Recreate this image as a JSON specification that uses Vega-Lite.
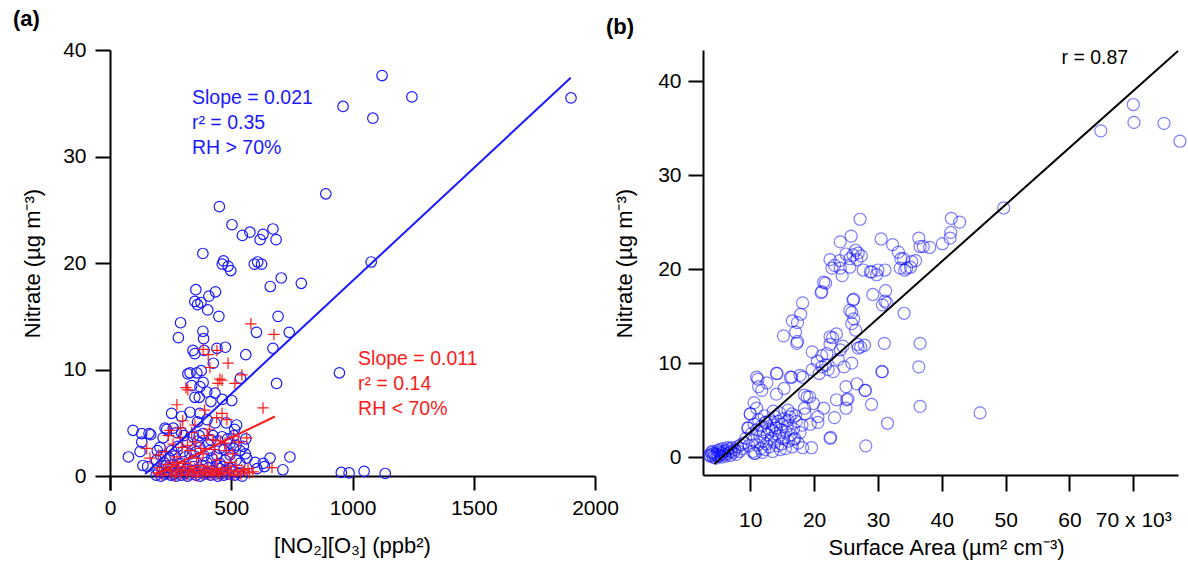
{
  "$schema": "https://vega.github.io/schema/vega-lite/v6.json",
  "background": "white",
  "padding": {"left": 13, "top": 8, "right": 5, "bottom": 5},
  "bounds": "flush",
  "spacing": 108,
  "config": {
    "view": {"stroke": null},
    "font": "Liberation Sans",
    "axis": {"grid": false, "domainColor": "black", "domainWidth": 2, "tickColor": "black", "tickWidth": 2, "labelColor": "black", "labelFontSize": 21, "titleFontSize": 22, "titleFontWeight": "normal", "titleColor": "black", "labelFont": "Liberation Sans", "titleFont": "Liberation Sans", "labelFlush": false, "labelOverlap": false},
    "title": {"fontSize": 22, "fontWeight": "bold", "color": "black", "font": "Liberation Sans"}
  },
  "datasets": {
    "a": [
      {"x":1122,"y":37.6,"g":"hi"},{"x":961,"y":34.7,"g":"hi"},{"x":1245,"y":35.6,"g":"hi"},{"x":1084,"y":33.6,"g":"hi"},{"x":1901,"y":35.5,"g":"hi"},{"x":1077,"y":20.1,"g":"hi"},{"x":890,"y":26.5,"g":"hi"},{"x":946,"y":9.7,"g":"hi"},{"x":954,"y":0.35,"g":"hi"},{"x":986,"y":0.3,"g":"hi"},{"x":1048,"y":0.45,"g":"hi"},{"x":1135,"y":0.25,"g":"hi"},
      {"x":451,"y":25.3,"g":"hi"},{"x":503,"y":23.6,"g":"hi"},{"x":546,"y":22.6,"g":"hi"},{"x":577,"y":22.9,"g":"hi"},{"x":631,"y":22.7,"g":"hi"},{"x":672,"y":23.2,"g":"hi"},{"x":619,"y":22.2,"g":"hi"},{"x":685,"y":22.2,"g":"hi"},{"x":383,"y":20.9,"g":"hi"},{"x":468,"y":20.2,"g":"hi"},{"x":463,"y":19.9,"g":"hi"},{"x":487,"y":19.7,"g":"hi"},{"x":498,"y":19.3,"g":"hi"},{"x":595,"y":19.9,"g":"hi"},{"x":609,"y":20.1,"g":"hi"},{"x":625,"y":19.9,"g":"hi"},{"x":661,"y":17.8,"g":"hi"},{"x":706,"y":18.6,"g":"hi"},{"x":789,"y":18.1,"g":"hi"},{"x":354,"y":17.5,"g":"hi"},{"x":435,"y":17.3,"g":"hi"},{"x":408,"y":16.9,"g":"hi"},{"x":350,"y":16.4,"g":"hi"},{"x":375,"y":16.3,"g":"hi"},{"x":361,"y":16.1,"g":"hi"},{"x":403,"y":15.6,"g":"hi"},{"x":449,"y":15.0,"g":"hi"},{"x":291,"y":14.4,"g":"hi"},{"x":693,"y":15.0,"g":"hi"},{"x":739,"y":13.5,"g":"hi"},{"x":604,"y":13.5,"g":"hi"},{"x":282,"y":13.0,"g":"hi"},{"x":383,"y":13.6,"g":"hi"},{"x":386,"y":12.9,"g":"hi"},{"x":560,"y":11.4,"g":"hi"},{"x":672,"y":12.0,"g":"hi"},{"x":476,"y":12.1,"g":"hi"},{"x":342,"y":11.8,"g":"hi"},{"x":350,"y":11.5,"g":"hi"},{"x":388,"y":11.8,"g":"hi"},{"x":441,"y":12.0,"g":"hi"},{"x":687,"y":8.7,"g":"hi"},{"x":538,"y":9.2,"g":"hi"},{"x":426,"y":10.6,"g":"hi"},
      {"x":330,"y":9.7,"g":"hi"},{"x":358,"y":9.7,"g":"hi"},{"x":371,"y":8.4,"g":"hi"},{"x":399,"y":7.9,"g":"hi"},{"x":433,"y":7.8,"g":"hi"},{"x":502,"y":7.1,"g":"hi"},{"x":350,"y":7.4,"g":"hi"},{"x":254,"y":5.9,"g":"hi"},{"x":295,"y":5.6,"g":"hi"},{"x":371,"y":5.9,"g":"hi"},{"x":330,"y":6.0,"g":"hi"},{"x":433,"y":5.0,"g":"hi"},{"x":522,"y":4.8,"g":"hi"},{"x":95,"y":4.3,"g":"hi"},{"x":131,"y":4.0,"g":"hi"},{"x":161,"y":4.0,"g":"hi"},{"x":131,"y":3.2,"g":"hi"},{"x":76,"y":1.8,"g":"hi"},{"x":124,"y":2.3,"g":"hi"},{"x":136,"y":1.0,"g":"hi"},{"x":742,"y":1.8,"g":"hi"},{"x":660,"y":1.7,"g":"hi"},{"x":632,"y":1.2,"g":"hi"},{"x":713,"y":0.6,"g":"hi"},{"x":606,"y":0.7,"g":"hi"},{"x":564,"y":1.7,"g":"hi"},{"x":536,"y":2.4,"g":"hi"},{"x":495,"y":3.1,"g":"hi"},{"x":462,"y":3.7,"g":"hi"},{"x":425,"y":3.8,"g":"hi"},{"x":384,"y":4.0,"g":"hi"},{"x":343,"y":3.7,"g":"hi"},{"x":295,"y":4.1,"g":"hi"},{"x":261,"y":4.5,"g":"hi"},{"x":227,"y":4.5,"g":"hi"},{"x":219,"y":3.6,"g":"hi"},{"x":206,"y":2.7,"g":"hi"},{"x":254,"y":2.4,"g":"hi"},{"x":301,"y":2.3,"g":"hi"},{"x":412,"y":2.4,"g":"hi"},{"x":453,"y":2.6,"g":"hi"},{"x":495,"y":2.0,"g":"hi"},{"x":536,"y":1.2,"g":"hi"},{"x":371,"y":2.7,"g":"hi"},{"x":192,"y":1.5,"g":"hi"},{"x":233,"y":1.0,"g":"hi"},{"x":289,"y":1.2,"g":"hi"},{"x":343,"y":1.5,"g":"hi"},{"x":399,"y":1.3,"g":"hi"},{"x":453,"y":1.2,"g":"hi"},{"x":495,"y":0.7,"g":"hi"},
      {"x":384,"y":8.8,"g":"hi"},{"x":416,"y":7.0,"g":"hi"},{"x":463,"y":7.2,"g":"hi"},{"x":368,"y":7.4,"g":"hi"},{"x":361,"y":5.1,"g":"hi"},{"x":400,"y":5.3,"g":"hi"},{"x":479,"y":5.0,"g":"hi"},{"x":514,"y":4.4,"g":"hi"},{"x":168,"y":3.9,"g":"hi"},{"x":234,"y":4.4,"g":"hi"},{"x":274,"y":4.1,"g":"hi"},{"x":305,"y":3.8,"g":"hi"},{"x":368,"y":3.8,"g":"hi"},{"x":416,"y":3.4,"g":"hi"},{"x":511,"y":3.8,"g":"hi"},{"x":195,"y":2.4,"g":"hi"},{"x":155,"y":0.9,"g":"hi"},{"x":637,"y":0.9,"g":"hi"},{"x":598,"y":1.3,"g":"hi"},{"x":558,"y":2.1,"g":"hi"},{"x":337,"y":8.5,"g":"hi"},{"x":321,"y":9.6,"g":"hi"},{"x":376,"y":9.9,"g":"hi"},
      {"x":190,"y":0.1,"g":"hi"},{"x":200,"y":0.4,"g":"hi"},{"x":210,"y":0.0,"g":"hi"},{"x":215,"y":0.6,"g":"hi"},{"x":225,"y":0.2,"g":"hi"},{"x":235,"y":0.3,"g":"hi"},{"x":240,"y":0.8,"g":"hi"},{"x":250,"y":0.1,"g":"hi"},{"x":258,"y":0.5,"g":"hi"},{"x":265,"y":0.2,"g":"hi"},{"x":272,"y":0.0,"g":"hi"},{"x":280,"y":0.4,"g":"hi"},{"x":290,"y":0.7,"g":"hi"},{"x":295,"y":0.1,"g":"hi"},{"x":305,"y":0.3,"g":"hi"},{"x":312,"y":0.6,"g":"hi"},{"x":320,"y":0.0,"g":"hi"},{"x":330,"y":0.2,"g":"hi"},{"x":338,"y":0.5,"g":"hi"},{"x":345,"y":0.9,"g":"hi"},{"x":355,"y":0.1,"g":"hi"},{"x":365,"y":0.4,"g":"hi"},{"x":372,"y":0.0,"g":"hi"},{"x":380,"y":0.6,"g":"hi"},{"x":390,"y":0.2,"g":"hi"},{"x":400,"y":0.3,"g":"hi"},{"x":408,"y":0.8,"g":"hi"},{"x":415,"y":0.1,"g":"hi"},{"x":425,"y":0.5,"g":"hi"},{"x":435,"y":0.2,"g":"hi"},{"x":445,"y":0.0,"g":"hi"},{"x":452,"y":0.7,"g":"hi"},{"x":460,"y":0.3,"g":"hi"},{"x":470,"y":0.1,"g":"hi"},{"x":480,"y":0.5,"g":"hi"},{"x":490,"y":0.2,"g":"hi"},{"x":505,"y":0.4,"g":"hi"},{"x":515,"y":0.1,"g":"hi"},{"x":530,"y":0.3,"g":"hi"},{"x":545,"y":0.0,"g":"hi"},{"x":210,"y":1.9,"g":"hi"},{"x":222,"y":1.3,"g":"hi"},{"x":245,"y":1.7,"g":"hi"},{"x":268,"y":1.9,"g":"hi"},{"x":280,"y":2.8,"g":"hi"},{"x":310,"y":1.8,"g":"hi"},{"x":320,"y":3.2,"g":"hi"},{"x":330,"y":2.1,"g":"hi"},{"x":355,"y":2.3,"g":"hi"},{"x":362,"y":3.3,"g":"hi"},{"x":388,"y":1.9,"g":"hi"},{"x":405,"y":3.0,"g":"hi"},{"x":420,"y":1.7,"g":"hi"},{"x":440,"y":2.0,"g":"hi"},{"x":445,"y":3.3,"g":"hi"},{"x":470,"y":2.5,"g":"hi"},{"x":475,"y":1.5,"g":"hi"},{"x":485,"y":3.5,"g":"hi"},{"x":510,"y":2.6,"g":"hi"},{"x":520,"y":1.5,"g":"hi"},{"x":550,"y":2.8,"g":"hi"},{"x":560,"y":3.5,"g":"hi"},{"x":520,"y":2.9,"g":"hi"},{"x":440,"y":1.0,"g":"hi"},{"x":465,"y":0.9,"g":"hi"},{"x":380,"y":1.0,"g":"hi"},{"x":300,"y":0.9,"g":"hi"},{"x":260,"y":1.1,"g":"hi"},
      {"x":581,"y":14.3,"g":"lo"},{"x":676,"y":13.3,"g":"lo"},{"x":384,"y":11.9,"g":"lo"},{"x":405,"y":11.4,"g":"lo"},{"x":441,"y":11.8,"g":"lo"},{"x":487,"y":10.6,"g":"lo"},{"x":412,"y":10.2,"g":"lo"},{"x":453,"y":9.1,"g":"lo"},{"x":544,"y":9.5,"g":"lo"},{"x":313,"y":8.3,"g":"lo"},{"x":445,"y":8.7,"g":"lo"},{"x":462,"y":9.0,"g":"lo"},{"x":515,"y":8.7,"g":"lo"},{"x":276,"y":6.7,"g":"lo"},{"x":631,"y":6.4,"g":"lo"},{"x":462,"y":5.9,"g":"lo"},{"x":482,"y":5.3,"g":"lo"},{"x":247,"y":4.3,"g":"lo"},{"x":241,"y":3.8,"g":"lo"},{"x":151,"y":2.6,"g":"lo"},{"x":165,"y":1.7,"g":"lo"},{"x":564,"y":3.6,"g":"lo"},{"x":474,"y":3.1,"g":"lo"},{"x":425,"y":3.4,"g":"lo"},{"x":297,"y":2.7,"g":"lo"},{"x":330,"y":2.4,"g":"lo"},{"x":384,"y":2.1,"g":"lo"},{"x":507,"y":2.1,"g":"lo"},{"x":276,"y":1.8,"g":"lo"},{"x":357,"y":1.7,"g":"lo"},{"x":441,"y":1.5,"g":"lo"},{"x":495,"y":1.3,"g":"lo"},{"x":544,"y":0.6,"g":"lo"},{"x":668,"y":0.8,"g":"lo"},{"x":569,"y":0.7,"g":"lo"},
      {"x":195,"y":0.3,"g":"lo"},{"x":205,"y":0.8,"g":"lo"},{"x":215,"y":0.1,"g":"lo"},{"x":228,"y":0.5,"g":"lo"},{"x":238,"y":1.1,"g":"lo"},{"x":248,"y":0.2,"g":"lo"},{"x":255,"y":0.6,"g":"lo"},{"x":262,"y":1.3,"g":"lo"},{"x":270,"y":0.0,"g":"lo"},{"x":278,"y":0.4,"g":"lo"},{"x":285,"y":0.9,"g":"lo"},{"x":292,"y":0.2,"g":"lo"},{"x":300,"y":0.6,"g":"lo"},{"x":308,"y":1.2,"g":"lo"},{"x":316,"y":0.1,"g":"lo"},{"x":324,"y":0.5,"g":"lo"},{"x":332,"y":0.9,"g":"lo"},{"x":340,"y":0.3,"g":"lo"},{"x":348,"y":0.7,"g":"lo"},{"x":356,"y":0.0,"g":"lo"},{"x":364,"y":0.4,"g":"lo"},{"x":372,"y":1.0,"g":"lo"},{"x":380,"y":0.2,"g":"lo"},{"x":388,"y":0.6,"g":"lo"},{"x":396,"y":0.3,"g":"lo"},{"x":404,"y":0.9,"g":"lo"},{"x":412,"y":0.1,"g":"lo"},{"x":420,"y":0.5,"g":"lo"},{"x":428,"y":0.2,"g":"lo"},{"x":436,"y":0.7,"g":"lo"},{"x":444,"y":0.4,"g":"lo"},{"x":452,"y":0.1,"g":"lo"},{"x":460,"y":0.6,"g":"lo"},{"x":470,"y":0.3,"g":"lo"},{"x":480,"y":0.8,"g":"lo"},{"x":490,"y":0.2,"g":"lo"},{"x":500,"y":0.5,"g":"lo"},{"x":512,"y":0.1,"g":"lo"},{"x":525,"y":0.4,"g":"lo"},{"x":540,"y":0.2,"g":"lo"},{"x":555,"y":0.5,"g":"lo"},{"x":575,"y":0.3,"g":"lo"},{"x":590,"y":0.4,"g":"lo"},{"x":520,"y":1.0,"g":"lo"},{"x":200,"y":2.0,"g":"lo"},{"x":230,"y":2.3,"g":"lo"},{"x":260,"y":3.0,"g":"lo"},{"x":290,"y":3.6,"g":"lo"},{"x":320,"y":2.9,"g":"lo"},{"x":350,"y":3.2,"g":"lo"},{"x":375,"y":2.6,"g":"lo"},{"x":400,"y":3.8,"g":"lo"},{"x":430,"y":2.5,"g":"lo"},{"x":455,"y":3.3,"g":"lo"},{"x":480,"y":2.4,"g":"lo"},{"x":530,"y":3.2,"g":"lo"},{"x":510,"y":3.7,"g":"lo"},{"x":290,"y":4.5,"g":"lo"},{"x":350,"y":4.8,"g":"lo"},{"x":410,"y":4.4,"g":"lo"},{"x":440,"y":5.5,"g":"lo"},{"x":390,"y":6.2,"g":"lo"},{"x":300,"y":5.2,"g":"lo"},{"x":321,"y":8.1,"g":"lo"},{"x":337,"y":4.1,"g":"lo"}
    ],
    "aLines": [
      {"x":145,"y":0.2,"g":"hi"},{"x":1900,"y":37.4,"g":"hi"},
      {"x":185,"y":0.15,"g":"lo"},{"x":680,"y":5.6,"g":"lo"}
    ],
    "aNotes": [
      {"x":338,"y":36.3,"g":"hi","t":"Slope = 0.021\nr² = 0.35\nRH > 70%"},
      {"x":1023,"y":11.8,"g":"lo","t":"Slope = 0.011\nr² = 0.14\nRH < 70%"}
    ],
    "b": [
      {"x":3.6,"y":0.2},{"x":3.8,"y":0.1},{"x":4.0,"y":0.3},{"x":4.2,"y":0.0},{"x":4.3,"y":0.4},{"x":4.5,"y":0.2},{"x":4.6,"y":-0.1},{"x":4.8,"y":0.3},{"x":5.0,"y":0.1},{"x":5.1,"y":0.5},{"x":5.3,"y":0.2},{"x":5.5,"y":0.0},{"x":5.6,"y":0.4},{"x":5.8,"y":0.6},{"x":6.0,"y":0.3},{"x":6.1,"y":0.1},{"x":6.3,"y":0.7},{"x":6.5,"y":0.4},{"x":6.7,"y":0.9},{"x":6.9,"y":0.2},{"x":7.0,"y":0.6},{"x":7.2,"y":1.0},{"x":7.4,"y":0.5},{"x":7.6,"y":0.8},{"x":7.8,"y":0.3},{"x":8.0,"y":1.1},{"x":8.3,"y":0.6},{"x":8.5,"y":1.3},{"x":8.8,"y":0.9},{"x":9.0,"y":1.5},{"x":4.1,"y":0.6},{"x":4.9,"y":0.7},{"x":5.7,"y":0.9},{"x":6.4,"y":1.0},{"x":3.9,"y":0.5},{"x":5.2,"y":0.8},
      {"x":9.3,"y":2.0},{"x":9.6,"y":3.1},{"x":9.8,"y":1.2},{"x":10.0,"y":4.6},{"x":10.2,"y":2.5},{"x":10.4,"y":0.6},{"x":10.5,"y":1.8},{"x":10.6,"y":3.5},{"x":10.8,"y":0.4},{"x":11.0,"y":2.9},{"x":11.1,"y":1.3},{"x":11.3,"y":4.0},{"x":11.5,"y":2.2},{"x":11.6,"y":0.9},{"x":11.8,"y":3.3},{"x":12.0,"y":1.7},{"x":12.1,"y":2.7},{"x":12.3,"y":0.8},{"x":12.4,"y":3.7},{"x":12.5,"y":1.4},{"x":12.7,"y":2.4},{"x":12.9,"y":3.0},{"x":13.0,"y":1.1},{"x":13.1,"y":3.9},{"x":13.3,"y":2.0},{"x":13.4,"y":2.9},{"x":13.5,"y":0.6},{"x":13.7,"y":3.4},{"x":13.8,"y":1.6},{"x":13.9,"y":4.3},{"x":14.0,"y":2.5},{"x":14.1,"y":3.1},{"x":14.3,"y":1.2},{"x":14.4,"y":3.8},{"x":14.5,"y":2.2},{"x":14.6,"y":4.7},{"x":14.8,"y":2.9},{"x":14.9,"y":1.4},{"x":15.0,"y":3.5},{"x":15.2,"y":2.0},{"x":15.3,"y":4.1},{"x":15.5,"y":0.9},{"x":15.6,"y":2.7},{"x":15.8,"y":3.3},{"x":16.0,"y":1.7},{"x":16.2,"y":4.3},{"x":16.4,"y":2.4},{"x":16.6,"y":1.1},{"x":16.8,"y":3.0},{"x":17.0,"y":2.0},{"x":17.2,"y":3.8},{"x":17.5,"y":1.5},{"x":17.8,"y":2.6},{"x":18.1,"y":3.4},{"x":12.2,"y":4.4},{"x":13.6,"y":4.9},{"x":11.9,"y":0.5},{"x":14.7,"y":0.8},{"x":15.9,"y":5.0},{"x":16.5,"y":4.6},
      {"x":70.0,"y":37.5},{"x":70.1,"y":35.6},{"x":74.8,"y":35.5},{"x":77.3,"y":33.6},{"x":64.9,"y":34.7},{"x":49.7,"y":26.5},{"x":46.0,"y":4.7},
      {"x":42.8,"y":25.0},{"x":41.5,"y":25.4},{"x":41.4,"y":23.9},{"x":41.3,"y":23.3},{"x":40.1,"y":22.7},{"x":38.1,"y":22.3},{"x":37.1,"y":22.4},{"x":36.4,"y":23.3},{"x":36.6,"y":22.4},{"x":35.9,"y":20.9},{"x":35.3,"y":20.8},{"x":35.1,"y":20.2},{"x":34.2,"y":19.9},{"x":34.5,"y":20.1},{"x":33.5,"y":20.1},{"x":33.6,"y":21.1},{"x":34.0,"y":21.1},{"x":33.2,"y":21.8},{"x":32.3,"y":22.6},{"x":30.5,"y":23.2},{"x":34.1,"y":15.3},{"x":36.6,"y":12.1},{"x":36.4,"y":9.6},{"x":36.6,"y":5.4},{"x":31.5,"y":3.6},{"x":31.0,"y":12.1},{"x":30.6,"y":9.1},{"x":31.2,"y":17.7},{"x":31.1,"y":16.6},{"x":30.7,"y":16.2},{"x":31.4,"y":16.4},{"x":30.0,"y":19.9},{"x":31.1,"y":19.9},{"x":29.8,"y":19.4},{"x":28.8,"y":19.7},{"x":29.0,"y":19.7},{"x":29.2,"y":17.3},{"x":29.0,"y":5.6},{"x":28.0,"y":7.1},{"x":28.1,"y":1.2},{"x":27.4,"y":21.4},{"x":27.2,"y":25.3},{"x":26.5,"y":22.0},{"x":25.6,"y":21.1},{"x":25.0,"y":21.6},{"x":25.8,"y":23.5},{"x":24.1,"y":22.9},{"x":24.1,"y":20.1},{"x":24.4,"y":19.3},{"x":23.2,"y":20.4},{"x":22.5,"y":21.0},{"x":24.0,"y":20.9},{"x":26.1,"y":21.5},{"x":26.9,"y":21.7},{"x":26.7,"y":21.0},{"x":25.6,"y":20.2},{"x":27.7,"y":19.9},{"x":22.8,"y":20.1},{"x":21.8,"y":18.5},{"x":21.1,"y":17.5},{"x":21.5,"y":18.6},{"x":21.2,"y":17.6},{"x":26.2,"y":16.8},{"x":26.1,"y":16.7},{"x":25.9,"y":15.4},{"x":25.6,"y":15.6},{"x":26.2,"y":14.7},{"x":25.9,"y":14.2},{"x":26.5,"y":13.5},{"x":26.8,"y":12.0},{"x":25.9,"y":10.0},{"x":24.7,"y":9.6},{"x":25.0,"y":7.5},{"x":25.3,"y":6.2},{"x":25.0,"y":5.2},{"x":23.2,"y":4.2},{"x":22.6,"y":2.1},{"x":18.2,"y":16.4},{"x":17.9,"y":15.2},{"x":17.4,"y":14.3},{"x":16.6,"y":14.5},{"x":17.1,"y":13.3},{"x":17.4,"y":12.3},{"x":17.3,"y":12.1},{"x":15.2,"y":12.9},{"x":23.5,"y":13.1},{"x":22.9,"y":12.7},{"x":22.5,"y":12.0},{"x":24.1,"y":11.4},{"x":22.5,"y":12.8},{"x":19.7,"y":11.2},{"x":21.2,"y":10.8},{"x":22.2,"y":9.3},{"x":21.2,"y":9.6},{"x":19.7,"y":9.3},{"x":18.2,"y":8.5},{"x":16.5,"y":8.5},{"x":14.1,"y":8.9},{"x":12.6,"y":7.9},{"x":11.2,"y":8.3},{"x":11.8,"y":7.1},{"x":15.3,"y":7.3},{"x":18.5,"y":6.6},{"x":19.3,"y":6.4},{"x":21.5,"y":5.2},{"x":20.6,"y":3.7},{"x":19.4,"y":3.5},{"x":18.5,"y":5.2},{"x":14.1,"y":6.7},{"x":10.6,"y":5.8},{"x":10.0,"y":4.6},{"x":12.4,"y":3.7},{"x":17.1,"y":4.4},{"x":15.9,"y":3.9},{"x":18.2,"y":1.0},{"x":19.6,"y":1.0},{"x":16.8,"y":1.9},{"x":9.7,"y":3.1},{"x":10.6,"y":0.4},{"x":11.0,"y":8.5},{"x":14.2,"y":8.9},{"x":11.3,"y":7.5},{"x":11.0,"y":5.2},{"x":16.3,"y":8.5},{"x":17.8,"y":8.7},{"x":18.9,"y":6.4},{"x":19.9,"y":5.7},{"x":18.6,"y":4.6},{"x":20.6,"y":4.3},{"x":22.5,"y":2.0},{"x":23.5,"y":6.1},{"x":25.1,"y":6.1},{"x":26.7,"y":7.8},{"x":23.0,"y":9.1},{"x":28.0,"y":7.1},{"x":30.7,"y":9.1},{"x":27.9,"y":11.9},{"x":27.3,"y":11.7},{"x":26.9,"y":11.6},{"x":20.5,"y":10.2},{"x":21.8,"y":9.8},{"x":20.8,"y":8.9},{"x":22.0,"y":11.0},{"x":23.8,"y":10.4},{"x":24.5,"y":11.8}
    ],
    "bLine": [{"x":4.4,"y":-0.74},{"x":77.0,"y":43.2}],
    "bNote": [{"x":58.75,"y":43.4,"t":"r = 0.87"}]
  },
  "hconcat": [
    {
      "width": 485,
      "height": 440,
      "title": {"text": "(a)", "anchor": "start", "frame": "group", "dx": -97, "offset": 8},
      "encoding": {
        "x": {"field": "x", "type": "quantitative", "scale": {"domain": [0, 2000], "nice": false, "zero": false},
              "axis": {"values": [0, 500, 1000, 1500, 2000], "format": "d", "offset": -14, "tickSize": 14, "labelPadding": 7, "title": "[NO₂][O₃] (ppb²)", "titleX": 242, "titleY": 69, "titleBaseline": "middle", "titleAlign": "center"}},
        "y": {"field": "y", "type": "quantitative", "scale": {"domain": [-1.3, 40], "nice": false, "zero": false},
              "axis": {"values": [0, 10, 20, 30, 40], "tickSize": 15, "labelPadding": 9, "title": "Nitrate (µg m⁻³)", "titleX": -78, "titleY": 213, "titleAngle": -90, "titleAlign": "center", "titleBaseline": "middle"}}
      },
      "layer": [
        {
          "data": {"name": "a"},
          "mark": {"type": "point", "filled": false, "strokeWidth": 1.2, "opacity": 1},
          "encoding": {
            "color": {"field": "g", "type": "nominal", "scale": {"domain": ["hi", "lo"], "range": ["#1a1aff", "#ff1a1a"]}, "legend": null},
            "shape": {"field": "g", "type": "nominal", "scale": {"domain": ["hi", "lo"], "range": ["circle", "M-1,0L1,0M0,-1L0,1"]}, "legend": null},
            "size": {"field": "g", "type": "nominal", "scale": {"domain": ["hi", "lo"], "range": [110, 130]}, "legend": null}
          }
        },
        {
          "data": {"name": "aLines"},
          "mark": {"type": "line", "strokeWidth": 2},
          "encoding": {
            "color": {"field": "g", "type": "nominal", "legend": null},
            "detail": {"field": "g", "type": "nominal"}
          }
        },
        {
          "data": {"name": "aNotes"},
          "mark": {"type": "text", "align": "left", "baseline": "top", "fontSize": 19.5, "lineBreak": "\n", "lineHeight": 25},
          "encoding": {
            "text": {"field": "t"},
            "color": {"field": "g", "type": "nominal", "legend": null}
          }
        }
      ]
    },
    {
      "width": 475,
      "height": 425,
      "title": {"text": "(b)", "anchor": "start", "frame": "group", "dx": -97, "offset": 8},
      "encoding": {
        "x": {"field": "x", "type": "quantitative", "scale": {"domain": [2.6, 77], "nice": false, "zero": false},
              "axis": {"values": [10, 20, 30, 40, 50, 60, 70], "tickSize": 16, "labelPadding": 18, "labelExpr": "datum.value == 70 ? '70 x 10³' : datum.label", "title": "Surface Area (µm² cm⁻³)", "titleX": 243, "titleY": 72, "titleBaseline": "middle", "titleAlign": "center"}},
        "y": {"field": "y", "type": "quantitative", "scale": {"domain": [-1.9, 43.3], "nice": false, "zero": false},
              "axis": {"values": [0, 10, 20, 30, 40], "tickSize": 15, "labelPadding": 7, "title": "Nitrate (µg m⁻³)", "titleX": -79, "titleY": 213, "titleAngle": -90, "titleAlign": "center", "titleBaseline": "middle"}}
      },
      "layer": [
        {
          "data": {"name": "b"},
          "mark": {"type": "point", "shape": "circle", "filled": false, "size": 145, "strokeWidth": 1.2, "color": "#0000ff", "opacity": 0.5}
        },
        {
          "data": {"name": "bLine"},
          "mark": {"type": "line", "strokeWidth": 2, "color": "black"},
          "encoding": {}
        },
        {
          "data": {"name": "bNote"},
          "mark": {"type": "text", "align": "left", "baseline": "top", "fontSize": 19.5, "color": "black"},
          "encoding": {"text": {"field": "t"}}
        }
      ]
    }
  ]
}
